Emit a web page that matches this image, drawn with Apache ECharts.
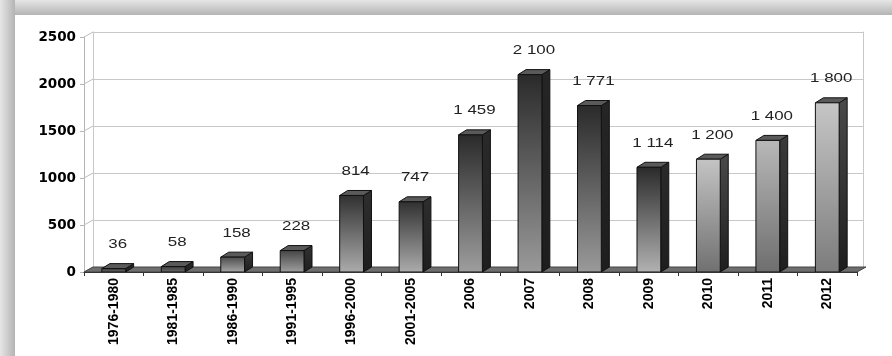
<!DOCTYPE html>
<html>
<head>
<meta charset="utf-8">
<script src="https://cdn.jsdelivr.net/npm/echarts@6/dist/echarts.min.js"></script>
<style>
html,body{margin:0;padding:0;background:#fff;}
#c{width:892px;height:356px;}
</style>
</head>
<body>
<div id="c"></div>
<script>
// ---- data ----
const categories = ['1976-1980','1981-1985','1986-1990','1991-1995','1996-2000','2001-2005','2006','2007','2008','2009','2010','2011','2012'];
const values = [36, 58, 158, 228, 814, 747, 1459, 2100, 1771, 1114, 1200, 1400, 1800];
const yTicks = [0, 500, 1000, 1500, 2000, 2500];

// ---- styles (per bar: front top colour, front bottom colour, side colour) ----
const barStyles = [
  ['#3a3a3a','#6a6a6a','#2a2a2a'],
  ['#3a3a3a','#6a6a6a','#2a2a2a'],
  ['#4a4a4a','#a8a8a8','#3a3a3a'],
  ['#444444','#a0a0a0','#333333'],
  ['#303030','#acacac','#2e2e2e'],
  ['#303030','#acacac','#2e2e2e'],
  ['#2a2a2a','#9e9e9e','#2a2a2a'],
  ['#2a2a2a','#9a9a9a','#252525'],
  ['#2a2a2a','#9a9a9a','#252525'],
  ['#2a2a2a','#b2b2b2','#2a2a2a'],
  ['#c4c4c4','#707070','#4a4a4a'],
  ['#b8b8b8','#6e6e6e','#3c3c3c'],
  ['#c6c6c6','#7c7c7c','#4a4a4a']
];
const DX = 8, DY = -5, WALL_DX = 9, WALL_DY = -5;

function fmt(v){ return String(v).replace(/\B(?=(\d{3})+(?!\d))/g, ' '); }

const chart = echarts.init(document.getElementById('c'), null, {renderer:'canvas'});

function renderBar(params, api){
  const i = api.value(0), v = api.value(1);
  const top = api.coord([i, v]);
  const base = api.coord([i, 0]);
  const band = api.size([1, 0])[0];
  const w = band * 0.40;
  const x0 = top[0] - w/2, x1 = top[0] + w/2;
  const yt = top[1], yb = base[1];
  const s = barStyles[i];
  return {
    type:'group',
    children:[
      {type:'polygon', shape:{points:[[x1,yt],[x1+DX,yt+DY],[x1+DX,yb+DY],[x1,yb]]},
        style:{fill:new echarts.graphic.LinearGradient(0,0,0,1,[{offset:0,color:s[2]},{offset:1,color:'#1e1e1e'}]), stroke:'#111', lineWidth:1}},
      {type:'polygon', shape:{points:[[x0,yt],[x0+DX,yt+DY],[x1+DX,yt+DY],[x1,yt]]},
        style:{fill:'#5a5a5a', stroke:'#111', lineWidth:1}},
      {type:'rect', shape:{x:x0, y:yt, width:w, height:yb-yt},
        style:{fill:new echarts.graphic.LinearGradient(0,0,0,1,[{offset:0,color:s[0]},{offset:1,color:s[1]}]), stroke:'#111', lineWidth:1}},
      {type:'text', x: top[0] + 4, y: yt - 24, scaleX:1.3,
        style:{text: fmt(v), fill:'#222', font:'13px "Liberation Sans", Arial, sans-serif', align:'center', verticalAlign:'middle'}}
    ]
  };
}

function renderFloor(params, api){
  const cs = params.coordSys;
  const yb = cs.y + cs.height, xl = cs.x, xr = cs.x + cs.width;
  return {
    type:'polygon',
    shape:{points:[[xl,yb],[xr,yb],[xr+WALL_DX,yb+WALL_DY],[xl+WALL_DX,yb+WALL_DY]]},
    style:{fill:'#6e6e6e', stroke:'#444', lineWidth:1}
  };
}

function renderWallTick(params, api){
  const cs = params.coordSys;
  const y = api.coord([0, api.value(1)])[1];
  return {
    type:'line',
    shape:{x1:cs.x, y1:y, x2:cs.x+WALL_DX, y2:y+WALL_DY},
    style:{stroke:'#bdbdbd', lineWidth:1}
  };
}

const option = {
  animation:false,
  backgroundColor:'#ffffff',
  graphic:[
    {type:'rect', left:0, top:0, z:-10, shape:{width:892, height:15},
      style:{fill:new echarts.graphic.LinearGradient(0,0,0,1,[{offset:0,color:'#e6e6e6'},{offset:1,color:'#b4b4b4'}])}},
    {type:'rect', left:0, top:0, z:-10, shape:{width:15, height:356},
      style:{fill:new echarts.graphic.LinearGradient(0,0,1,0,[{offset:0,color:'#e6e6e6'},{offset:1,color:'#b4b4b4'}])}}
  ],
  grid:[
    {left:84, right:35, top:37, bottom:84},
    {left:93, right:29, top:32, bottom:89}
  ],
  xAxis:[
    {type:'category', gridIndex:0, data:categories, z:5,
      axisLine:{show:true, lineStyle:{color:'#333', width:1}},
      axisTick:{show:true, length:4, lineStyle:{color:'#333'}},
      axisLabel:{rotate:90, margin:6, color:'#000', fontWeight:'bold', fontSize:14, fontFamily:'"Liberation Sans", Arial, sans-serif', interval:0}
    },
    {type:'category', gridIndex:1, data:categories, show:false}
  ],
  yAxis:[
    {type:'value', gridIndex:0, min:0, max:2500, interval:500,
      axisLine:{show:true, lineStyle:{color:'#b5b5b5'}},
      axisTick:{show:true, length:4, lineStyle:{color:'#b5b5b5'}},
      splitLine:{show:false},
      axisLabel:{margin:8, color:'#000', fontWeight:'bold', fontSize:13.5, fontFamily:'"DejaVu Sans", sans-serif',
        formatter:function(v){ return String(v); }}
    },
    {type:'value', gridIndex:1, min:0, max:2500, interval:500,
      axisLine:{show:true, lineStyle:{color:'#c8c8c8'}},
      axisTick:{show:false}, axisLabel:{show:false},
      splitLine:{show:true, lineStyle:{color:'#c8c8c8', width:1}}
    },
    {type:'value', gridIndex:1, position:'right', min:0, max:2500, interval:500,
      axisLine:{show:true, lineStyle:{color:'#c8c8c8'}},
      axisTick:{show:false}, axisLabel:{show:false}, splitLine:{show:false}
    }
  ],
  series:[
    {type:'custom', name:'wallTicks', xAxisIndex:0, yAxisIndex:0, z:1, silent:true,
      renderItem:renderWallTick, data:yTicks.map(t=>[0,t])},
    {type:'custom', name:'floor', xAxisIndex:0, yAxisIndex:0, z:2, silent:true,
      renderItem:renderFloor, data:[[0,0]]},
    {type:'custom', name:'values', xAxisIndex:0, yAxisIndex:0, z:3,
      renderItem:renderBar, data:values.map((v,i)=>[i,v])}
  ]
};
chart.setOption(option);
</script>
</body>
</html>
